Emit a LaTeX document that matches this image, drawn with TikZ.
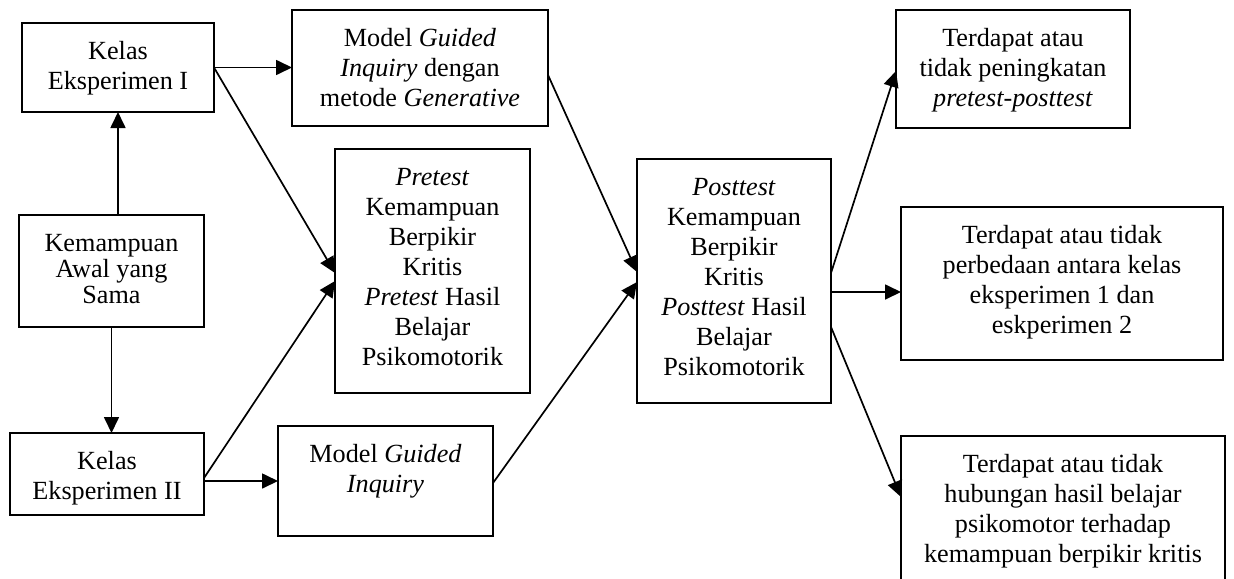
\documentclass[tikz,border=0pt]{standalone}
\usepackage{fontspec}
\setmainfont{Liberation Serif}
\usetikzlibrary{arrows.meta,calc}
\newcommand{\bxt}[4][15pt]{\parbox[c][#3][t]{#2}{\fontsize{13.1pt}{#1}\selectfont\centering\rule{0pt}{18pt}#4\par}}
\tikzset{
  box/.style={draw, line width=1.1pt, inner sep=0pt, outer sep=0pt},
  arr/.style={-{Triangle[length=8pt,width=7.5pt]}, line width=0.85pt}
}
\begin{document}
\begin{tikzpicture}[x=0.5pt,y=-0.5pt]
\path[clip] (0,0) rectangle (1234,578);
\node[box] (KI) at (118,67.5) {\bxt{96pt}{44.5pt}{Kelas\\Eksperimen I}};
\node[box] (KA) at (111.5,271) {\bxt[13pt]{92.5pt}{56pt}{Kemampuan\\Awal yang\\Sama}};
\node[box] (KII) at (107,474) {\bxt{97pt}{41pt}{Kelas\\Eksperimen II}};
\node[box] (MG1) at (420,68) {\bxt{128pt}{58pt}{Model \textit{Guided}\\\textit{Inquiry} dengan\\metode \textit{Generative}}};
\node[box] (PRE) at (432.5,271) {\bxt{97.5pt}{122pt}{\textit{Pretest}\\Kemampuan\\Berpikir\\Kritis\\\textit{Pretest} Hasil\\Belajar\\Psikomotorik}};
\node[box] (MG2) at (385.5,481) {\bxt{107.5pt}{55pt}{Model \textit{Guided}\\\textit{Inquiry}}};
\node[box] (POST) at (734,281) {\bxt{97pt}{122pt}{\textit{Posttest}\\Kemampuan\\Berpikir\\Kritis\\\textit{Posttest} Hasil\\Belajar\\Psikomotorik}};
\node[box] (R1) at (1013,69) {\bxt{117pt}{59pt}{Terdapat atau\\tidak peningkatan\\\textit{pretest-posttest}}};
\node[box] (R2) at (1062,283.5) {\bxt{161pt}{76.5pt}{Terdapat atau tidak\\perbedaan antara kelas\\eksperimen 1 dan\\eskperimen 2}};
\node[box] (R3) at (1063,528) {\bxt{162pt}{92pt}{Terdapat atau tidak\\hubungan hasil belajar\\psikomotor terhadap\\kemampuan berpikir kritis}};
\draw[arr] (KI.south |- KA.north) -- (KI.south);
\draw[arr] (KA.south) -- (KA.south |- KII.north);
\draw[arr] (KI.east) -- (KI.east -| MG1.west);
\draw[arr] (KI.east) -- ([yshift=-1pt]PRE.west);
\draw[arr] ([yshift=-2pt]KII.east) -- ([yshift=-5pt]PRE.west);
\draw[arr] (KII.east |- MG2.west) -- (MG2.west);
\draw[arr] ([yshift=-3.5pt]MG1.east) -- ([yshift=4.5pt]POST.west);
\draw[arr] ([yshift=-1pt]MG2.east) -- ([yshift=-0.5pt]POST.west);
\draw[arr] ([yshift=4pt]POST.east) -- ([yshift=-1pt]R1.west);
\draw[arr] ([yshift=-5.5pt]POST.east) -- ([yshift=-5.5pt]POST.east -| R2.west);
\draw[arr] ([yshift=-23pt]POST.east) -- ([yshift=-30.5pt]R3.north west);
\end{tikzpicture}
\end{document}
